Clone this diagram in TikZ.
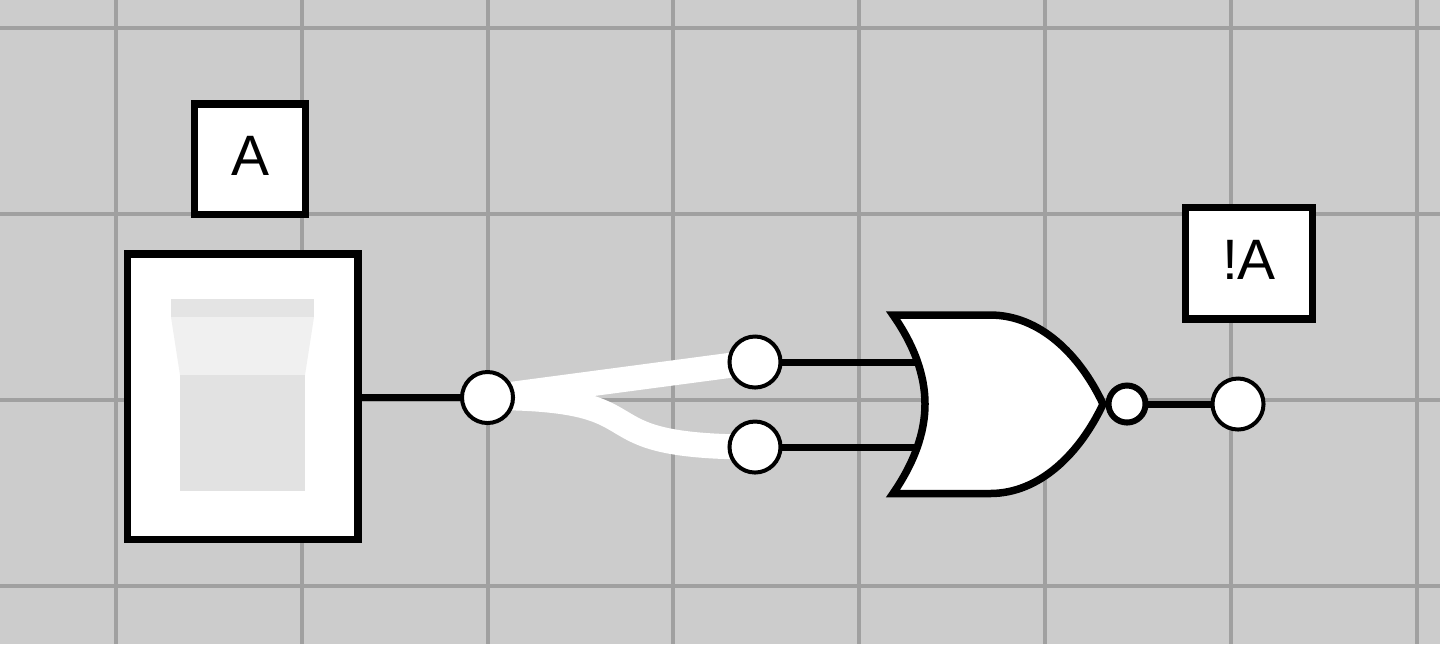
\documentclass[tikz,border=0pt]{standalone}
\usepackage{fontspec}
\setmainfont{Liberation Sans}
\usetikzlibrary{backgrounds}

\definecolor{sheetgray}{HTML}{CCCCCC}
\definecolor{gridgray}{HTML}{A0A0A0}
\definecolor{leverband}{HTML}{E4E4E4}
\definecolor{levertop}{HTML}{F0F0F0}
\definecolor{leverbody}{HTML}{E2E2E2}

\tikzset{
    labelbox/.style={draw,line width=0.075cm,fill=white,inner sep=0pt,font=\fontsize{16.2pt}{18pt}\selectfont},
    port/.style={draw,circle,line width=0.04cm,fill=white,inner sep=0pt,minimum size=0.51cm},
    wire/.style={line width=0.07cm},
    livewire/.style={line width=0.25cm,white}
}

\begin{document}
\begin{tikzpicture}[x=0.01cm,y=-0.01cm]
        \useasboundingbox (0,0) rectangle (1440,644);

        % switch
        \node[draw,line width=0.075cm,fill=white,inner sep=0pt,minimum width=2.3cm,minimum height=2.85cm] (switch) at (242.75,396.75){};
        \fill[leverband](171,299)rectangle(314,317);
        \fill[levertop](171,317)--(314,317)--(305,375)--(180,375)--cycle;
        \fill[leverbody](180,375)rectangle(305,491);

        % labels
        \node[labelbox,minimum width=1.105cm,minimum height=1.105cm] (labelA) at (250,159.25){\raisebox{0.06cm}{A}};
        \node[labelbox,minimum width=1.27cm,minimum height=1.115cm] (labelNotA) at (1249,263.25){\raisebox{0.06cm}{!A}};

        % ports
        \node[port] (split) at (487.5,397.5){};
        \node[port] (inTop) at (755,362){};
        \node[port] (inBottom) at (755,447){};
        \node[port] (out) at (1238,404){};
        \node[draw,circle,line width=0.06cm,fill=white,inner sep=0pt,minimum size=0.37cm] (bubble) at (1127,404){};

        % gate
        \coordinate (gateTop) at (925,362);
        \coordinate (gateBottom) at (925,447);
        \draw[line width=0.075cm,fill=white](893,315)--(990,315)
            .. controls (1040,315) and (1080,355) .. (1103,404)
            .. controls (1080,453) and (1040,493.5) .. (990,493.5)
            --(893,493.5)
            .. controls (914,463) and (925,433) .. (925,404)
            .. controls (925,375) and (914,345) .. (893,315)--cycle;

        \begin{scope}[on background layer]
            % sheet and grid
            \fill[sheetgray](0,0)rectangle(1440,644);
            \foreach \gx in {116,302,488,673,859,1045,1231,1417}
                \draw[gridgray,line width=0.04cm](\gx,0)--(\gx,644);
            \foreach \gy in {28,214,400,586}
                \draw[gridgray,line width=0.04cm](0,\gy)--(1440,\gy);

            % wires
            \draw[wire](switch.east|-split)--(split.center);
            \draw[wire](inTop.center)--(gateTop);
            \draw[wire](inBottom.center)--(gateBottom);
            \draw[wire](bubble.center)--(out.center);
            \draw[livewire](split.center)--(inTop.center);
            \draw[livewire](split.center) .. controls (672,397.5) and (570,447) .. (inBottom.center);
        \end{scope}
    \end{tikzpicture}
\end{document}
